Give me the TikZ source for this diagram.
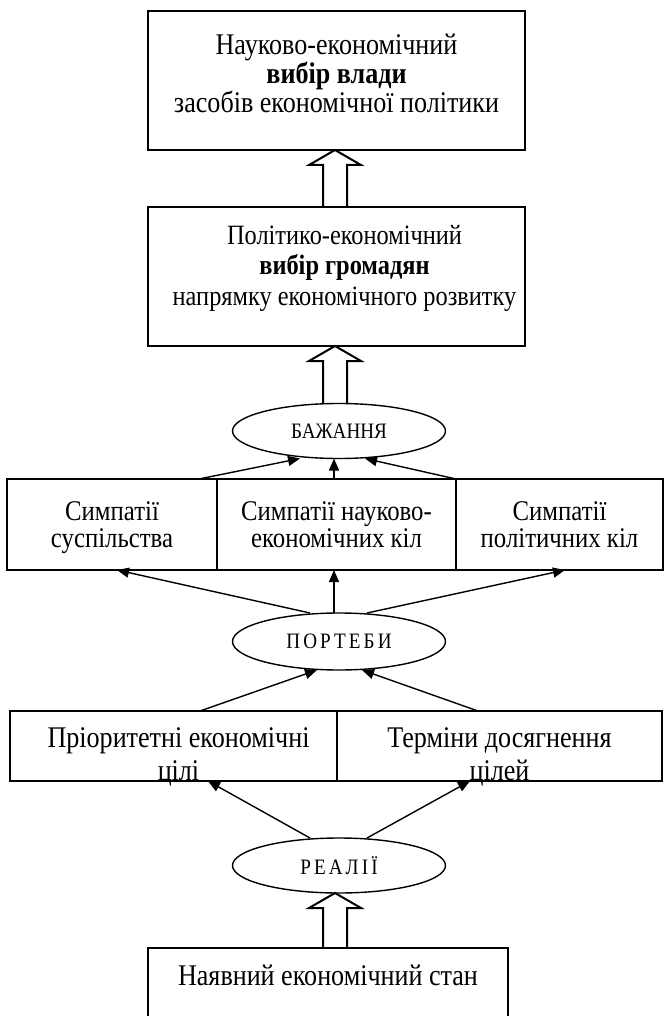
\documentclass[tikz,border=0pt]{standalone}
\usepackage{fontspec}
\setmainfont{Liberation Serif}[FakeStretch=0.87]
\newfontfamily\spacedfont{Liberation Serif}[FakeStretch=0.87,LetterSpace=14]
\usetikzlibrary{arrows.meta,calc,shapes.geometric}
\newcommand\boxtext[7]{%
  \parbox[c][#3pt][t]{#2pt}{\fontsize{#1}{#5}\selectfont\centering
    \leftskip=#6pt plus 1fil\relax\rule{0pt}{#4pt}#7}%
}
\newcommand\fatarrow[3]{
  \draw[fat] let \p1=(#2.north), \p2=(#3.south) in
    (#1-12,\y1) -- (#1-12,\y2-15pt) -- (#1-26,\y2-15pt) -- (#1,\y2) --
    (#1+26,\y2-15pt) -- (#1+12,\y2-15pt) -- (#1+12,\y1);
}

\begin{document}
\begin{tikzpicture}[x=1pt, y=-1pt,
  frame/.style={draw, line width=2.4pt, inner sep=0pt, outer sep=0pt, anchor=north west},
  oval/.style={draw, ellipse, line width=1.4pt, inner sep=0pt, outer sep=0pt,
    minimum width=213pt, minimum height=55pt, font=\fontsize{22}{24}\selectfont},
  thinarrow/.style={line width=1.4pt, -{Triangle[length=12pt,width=10pt]}},
  fat/.style={line width=2pt}]
\useasboundingbox (0,0) rectangle (665,1016);

\node[frame] (vlada) at (148,11) {\boxtext{30}{377}{139}{44}{27.5}{0}{Науково-економічний\\\textbf{вибір влади}\\засобів економічної політики}};
\node[frame] (hromada) at (148,207) {\boxtext{28}{377}{139}{37}{30.5}{16}{Політико-економічний\\\textbf{вибір громадян}\\напрямку економічного розвитку}};
\node[oval] (bazhannya) at (339,431) {БАЖАННЯ};

\node[frame] (symp1) at (7,479) {\boxtext{28.5}{210}{91}{41}{27}{0}{Симпатії\\суспільства}};
\node[frame] (symp2) at (217,479) {\boxtext{28.5}{239}{91}{41}{27}{0}{Симпатії науково-\\економічних кіл}};
\node[frame] (symp3) at (456,479) {\boxtext{28.5}{207}{91}{41}{27}{0}{Симпатії\\політичних кіл}};

\node[oval, minimum height=57pt] (potreby) at (339,641.5) {\spacedfont ПОРТЕБИ};

\node[frame] (cili) at (10,711) {\boxtext{30}{327}{70}{36}{33}{10}{Пріоритетні економічні\\цілі}};
\node[frame] (terminy) at (337,711) {\boxtext{30}{325}{70}{36}{33}{0}{Терміни досягнення\\цілей}};

\node[oval] (realii) at (339,865.5) {\spacedfont РЕАЛІЇ};
\node[frame] (stan) at (148,948) {\boxtext{30}{360}{100}{37}{30}{0}{Наявний економічний стан}};

\fatarrow{335}{hromada}{vlada}
\fatarrow{335}{bazhannya}{hromada}
\fatarrow{335}{stan}{realii}

\draw[thinarrow] (199,0 |- symp1.north) -- (300,0 |- bazhannya.south);
\draw[thinarrow] (334,0 |- symp2.north) -- (334,0 |- bazhannya.south);
\draw[thinarrow] (symp3.north west) -- (365,0 |- bazhannya.south);

\draw[thinarrow] (310,0 |- potreby.north) -- (117,0 |- symp1.south);
\draw[thinarrow] (334,0 |- potreby.north) -- (334,0 |- symp2.south);
\draw[thinarrow] (367,0 |- potreby.north) -- (565,0 |- symp3.south);

\draw[thinarrow] (200,0 |- cili.north) -- (317,0 |- potreby.south);
\draw[thinarrow] (478,0 |- terminy.north) -- (362,0 |- potreby.south);

\draw[thinarrow] (310,0 |- realii.north) -- (208,0 |- cili.south);
\draw[thinarrow] (367,0 |- realii.north) -- (470,0 |- terminy.south);
\end{tikzpicture}
\end{document}
